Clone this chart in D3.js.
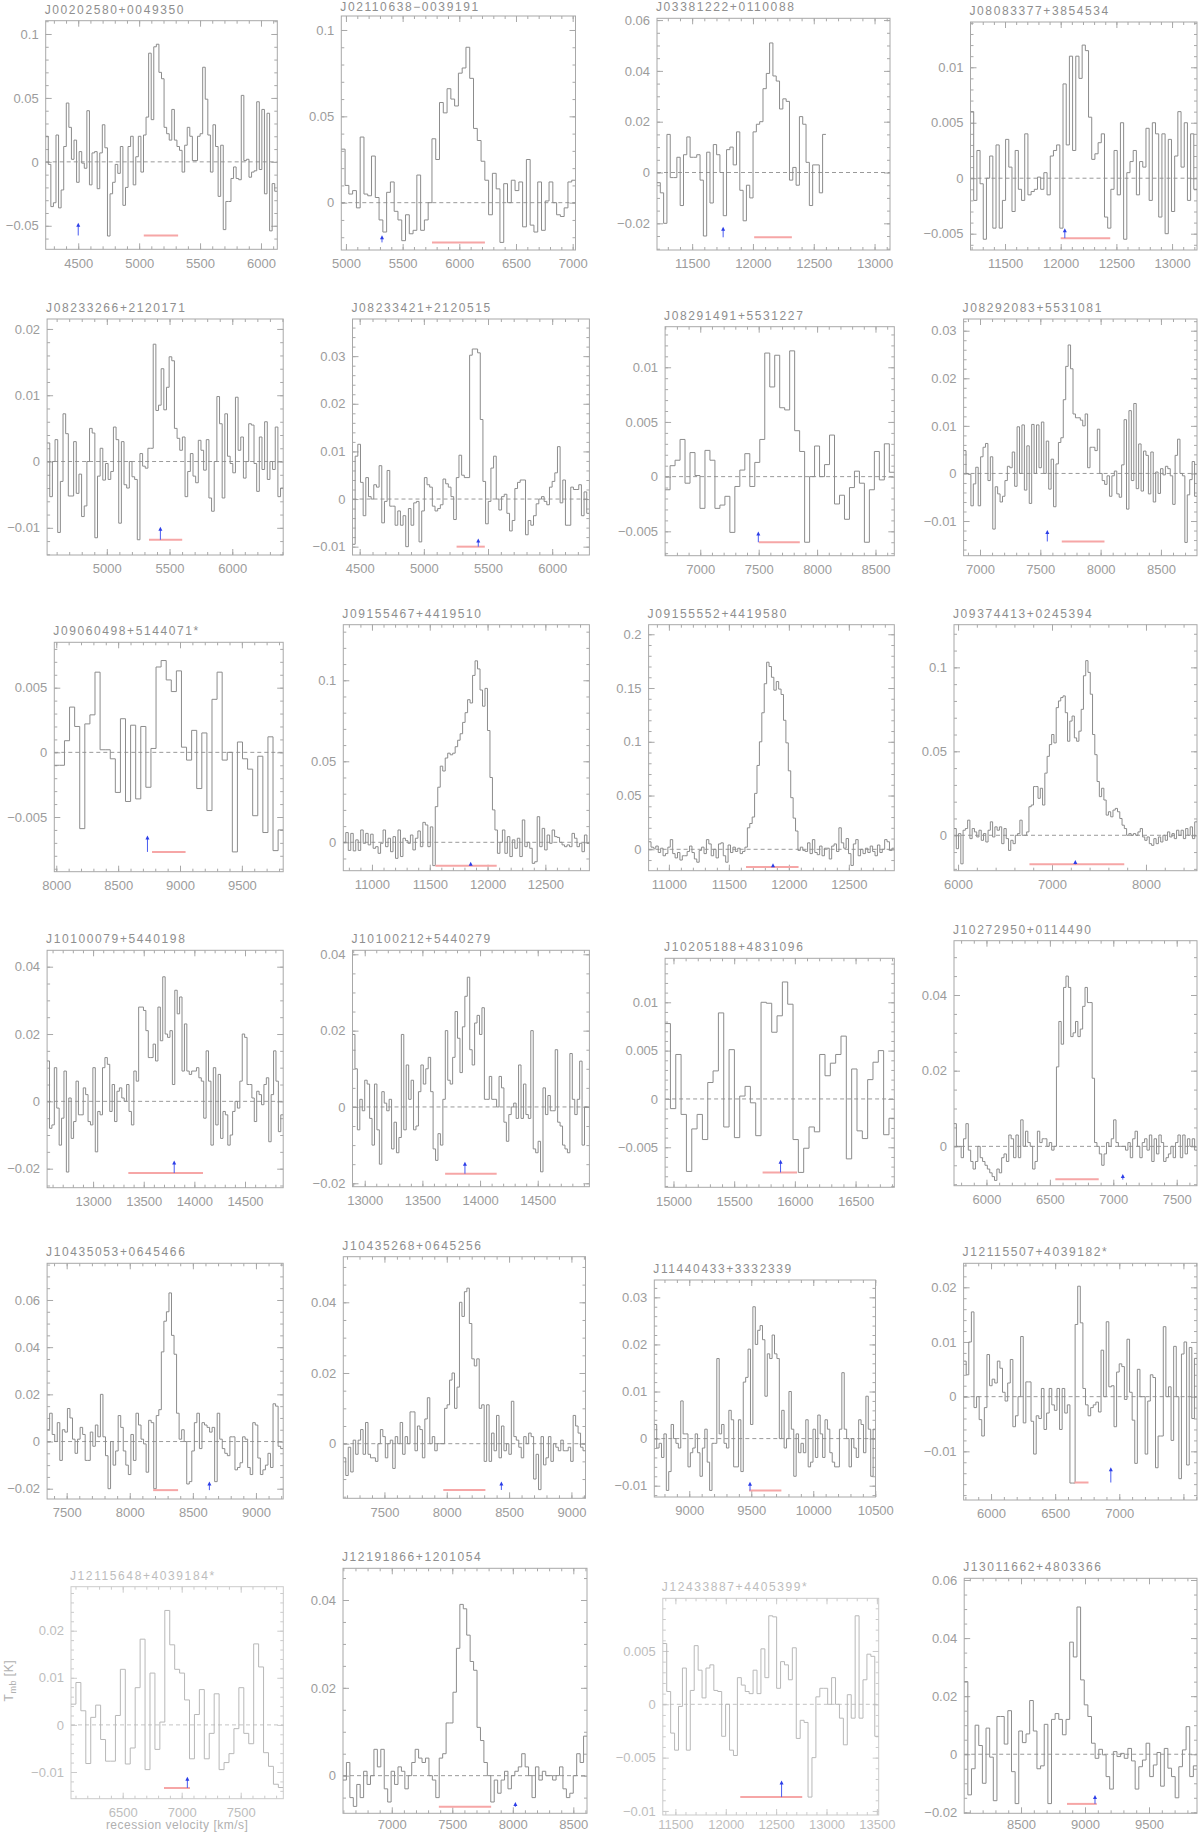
<!DOCTYPE html>
<html>
<head>
<meta charset="utf-8">
<script src="https://cdn.jsdelivr.net/npm/d3@7"></script>
<style>
body { margin: 0; background: #fff; }
svg { display: block; }
.tick text { font-family: "Liberation Sans", Arial, sans-serif; font-size: 13px; fill: #9c9c9c; }
.tick line { stroke: #a8a8a8; }
.title { font-family: "Liberation Sans", Arial, sans-serif; font-size: 12px; fill: #8e8e8e; letter-spacing: 1.6px; }
.frame { fill: none; stroke: #a8a8a8; }
.spec { fill: none; stroke: #8c8c8c; stroke-width: 1; }
.zero { stroke: #9a9a9a; stroke-dasharray: 4,3; }
.faded .tick text, .faded .title { fill: #bdbdbd; }
.faded .tick line, .faded .frame { stroke: #cbcbcb; }
.faded .spec { stroke: #b8b8b8; }
.faded .zero { stroke: #c4c4c4; }
.axis-label { font-family: "Liberation Sans", Arial, sans-serif; font-size: 12px; fill: #b0b0b0; letter-spacing: 0.5px; }
</style>
</head>
<body>
<svg id="chart" width="1200" height="1833"></svg>
<script>
const names = ["J00202580+0049350", "J02110638\u22120039191", "J03381222+0110088", "J08083377+3854534",
    "J08233266+2120171", "J08233421+2120515", "J08291491+5531227", "J08292083+5531081",
    "J09060498+5144071*", "J09155467+4419510", "J09155552+4419580", "J09374413+0245394",
    "J10100079+5440198", "J10100212+5440279", "J10205188+4831096", "J10272950+0114490",
    "J10435053+0645466", "J10435268+0645256", "J11440433+3332339", "J12115507+4039182*",
    "J12115648+4039184*", "J12191866+1201054", "J12433887+4405399*", "J13011662+4803366"];

// velocity range shown in each panel [km/s]
const xDomains = [[4233, 6134], [4959, 7025], [11211, 13127], [11190, 13224],
    [4524, 6406], [4444, 6290], [6699, 8661], [6864, 8799],
    [7984, 9834], [10752, 12881], [10831, 12879], [5957, 8543],
    [12546, 14877], [12894, 14948], [14931, 16819], [5744, 7660],
    [7345, 9216], [7170, 9113], [8718, 10502], [5786, 7606],
    [6062, 7861], [6597, 8613], [11375, 13518], [8056, 9875]];

// T_mb range shown in each panel [K]
const yDomains = [[-0.0684, 0.1104], [-0.0274, 0.1081], [-0.0305, 0.0607], [-0.00647, 0.01408],
    [-0.0141, 0.0215], [-0.01175, 0.0378], [-0.00723, 0.01371], [-0.01729, 0.03246],
    [-0.00923, 0.00851], [-0.01753, 0.1343], [-0.0199, 0.2089], [-0.0211, 0.1254],
    [-0.02565, 0.04487], [-0.0209, 0.04105], [-0.00914, 0.01455], [-0.0104, 0.05435],
    [-0.02436, 0.07555], [-0.01545, 0.0529], [-0.0124, 0.03368], [-0.0189, 0.02439],
    [-0.01567, 0.02934], [-0.00857, 0.04722], [-0.01038, 0.00994], [-0.02034, 0.06059]];

const xLabels = [[4500, 5000, 5500, 6000], [5000, 5500, 6000, 6500, 7000], [11500, 12000, 12500, 13000], [11500, 12000, 12500, 13000],
    [5000, 5500, 6000], [4500, 5000, 5500, 6000], [7000, 7500, 8000, 8500], [7000, 7500, 8000, 8500],
    [8000, 8500, 9000, 9500], [11000, 11500, 12000, 12500], [11000, 11500, 12000, 12500], [6000, 7000, 8000],
    [13000, 13500, 14000, 14500], [13000, 13500, 14000, 14500], [15000, 15500, 16000, 16500], [6000, 6500, 7000, 7500],
    [7500, 8000, 8500, 9000], [7500, 8000, 8500, 9000], [9000, 9500, 10000, 10500], [6000, 6500, 7000],
    [6500, 7000, 7500], [7000, 7500, 8000, 8500], [11500, 12000, 12500, 13000, 13500], [8500, 9000, 9500]];

const yLabels = [[-0.05, 0, 0.05, 0.1], [0, 0.05, 0.1], [-0.02, 0, 0.02, 0.04, 0.06], [-0.005, 0, 0.005, 0.01],
    [-0.01, 0, 0.01, 0.02], [-0.01, 0, 0.01, 0.02, 0.03], [-0.005, 0, 0.005, 0.01], [-0.01, 0, 0.01, 0.02, 0.03],
    [-0.005, 0, 0.005], [0, 0.05, 0.1], [0, 0.05, 0.1, 0.15, 0.2], [0, 0.05, 0.1],
    [-0.02, 0, 0.02, 0.04], [-0.02, 0, 0.02, 0.04], [-0.005, 0, 0.005, 0.01], [0, 0.02, 0.04],
    [-0.02, 0, 0.02, 0.04, 0.06], [0, 0.02, 0.04], [-0.01, 0, 0.01, 0.02, 0.03], [-0.01, 0, 0.01, 0.02],
    [-0.01, 0, 0.01, 0.02], [0, 0.02, 0.04], [-0.01, -0.005, 0, 0.005], [-0.02, 0, 0.02, 0.04, 0.06]];

const xMajorStep = [500, 500, 500, 500, 500, 500, 500, 500, 500, 500, 500, 1000,
    500, 500, 500, 500, 500, 500, 500, 500, 500, 500, 500, 500];
const xMinorStep = [100, 100, 100, 100, 100, 100, 100, 100, 100, 100, 100, 200,
    100, 100, 100, 100, 100, 100, 100, 100, 100, 100, 100, 100];
const yMinorStep = [0.01, 0.01, 0.005, 0.001, 0.002, 0.002, 0.001, 0.002,
    0.001, 0.01, 0.01, 0.01, 0.005, 0.005, 0.001, 0.005,
    0.005, 0.005, 0.002, 0.002, 0.002, 0.005, 0.001, 0.005];

// velocity span covered by the channels of each spectrum
const specRanges = [[4233, 6134], [4959, 7025], [11211, 12600], [11190, 13224],
    [4524, 6406], [4444, 6290], [6699, 8661], [6864, 8799],
    [7984, 9834], [10752, 12881], [10831, 12879], [5957, 8543],
    [12546, 14877], [12894, 14948], [14931, 16819], [5744, 7660],
    [7345, 9216], [7170, 9113], [8718, 10502], [5786, 7606],
    [6062, 7861], [6597, 8613], [11375, 13518], [8056, 9875]];

// channel values T_mb [K]
const spectra = [
  [0.02, -0.002, -0.035, -0.032, 0.021, -0.036, -0.022, 0.012, 0.046, 0.027, 0.002, 0.017, -0.016, 0.008, -0.001, -0.005, 0.04, -0.018, 0.007, 0.008, -0.021, 0.007, 0.029, 0.011, -0.058, -0.025, -0.016, -0.002, -0.009, 0.012, -0.034, -0.02, 0.012, 0.02, -0.018, 0.004, 0.02, -0.008, 0.021, 0.035, 0.085, 0.033, 0.09, 0.092, 0.07, 0.065, 0.027, 0.022, 0.017, 0.041, 0.017, 0.012, 0.009, -0.008, 0.013, 0.027, 0.02, 0.001, 0.001, 0.02, 0.022, 0.074, 0.049, 0.021, -0.008, 0.029, 0.012, -0.027, 0.013, -0.053, -0.031, -0.031, -0.013, -0.004, -0.013, -0.014, 0.052, 0.001, 0.002, -0.012, -0.008, -0.007, 0.047, -0.006, 0.041, -0.025, 0.038, -0.054, -0.017, -0.023],
  [0.031, 0.01, 0.005, 0.007, -0.003, 0.038, 0.005, 0.004, 0.027, 0.003, -0.01, -0.017, 0.006, 0.012, -0.005, -0.01, -0.022, -0.007, -0.018, -0.016, 0.016, -0.016, -0.01, 0.0, 0.037, 0.025, 0.058, 0.052, 0.066, 0.06, 0.056, 0.075, 0.078, 0.09, 0.072, 0.043, 0.036, 0.024, 0.013, -0.007, 0.017, 0.008, -0.023, 0.011, 0.0, 0.013, 0.007, 0.012, -0.014, 0.025, -0.013, -0.017, 0.012, -0.016, 0.001, 0.012, 0.0, -0.007, -0.008, -0.003, 0.012, 0.013],
  [-0.004, -0.008, -0.02, 0.015, -0.002, -0.002, 0.006, -0.013, 0.007, 0.014, 0.006, 0.006, 0.007, -0.003, -0.025, 0.008, -0.012, 0.011, 0.007, 0.0, -0.017, 0.009, 0.01, 0.003, 0.016, -0.007, -0.019, -0.005, -0.01, 0.016, 0.019, 0.02, 0.033, 0.039, 0.051, 0.038, 0.036, 0.025, 0.029, 0.028, -0.003, 0.002, -0.005, 0.022, 0.019, 0.004, -0.013, 0.003, 0.003, -0.008, 0.015],
  [0.006, -0.002, 0.0025, -0.0005, -0.0055, 0.0, 0.002, -0.0045, 0.003, -0.0045, -0.002, 0.0035, 0.001, -0.003, 0.0025, -0.001, -0.002, 0.004, -0.0015, -0.0012, -0.001, 0.0001, -0.001, 0.0005, -0.0015, 0.002, 0.0025, 0.003, -0.0045, 0.0085, 0.003, 0.011, 0.0025, 0.011, 0.009, 0.012, 0.0115, 0.0055, 0.0017, 0.0022, 0.0032, 0.004, -0.0035, -0.0045, -0.001, 0.0025, -0.0015, 0.005, -0.0055, 0.0005, 0.0015, 0.0025, -0.0015, 0.0015, 0.001, 0.0045, -0.002, 0.005, 0.004, -0.0035, 0.004, -0.005, 0.0035, -0.003, 0.002, 0.006, 0.001, 0.005, -0.002, 0.004, -0.001],
  [0.0028, -0.0053, 0.0, 0.0033, -0.0107, -0.003, 0.0072, 0.0042, -0.0052, -0.0052, 0.003, -0.0048, -0.0019, -0.0083, -0.0067, 0.0, 0.005, 0.0043, -0.0115, -0.0022, 0.002, -0.0028, -0.0003, -0.0027, -0.0015, 0.0052, 0.0033, -0.0093, 0.003, -0.0035, -0.004, 0.0, -0.0023, -0.0027, -0.0118, 0.0012, -0.0007, -0.001, 0.002, 0.002, 0.0177, 0.0077, 0.0085, 0.014, 0.0078, 0.0112, 0.0158, 0.0152, 0.005, 0.0035, 0.0017, 0.0037, -0.0053, -0.0015, 0.0012, -0.0022, -0.0032, 0.0032, 0.0017, -0.0013, 0.0033, -0.0055, -0.0075, 0.0, 0.0098, 0.0057, -0.0055, 0.0072, 0.0008, -0.0003, -0.0017, 0.0097, 0.0017, 0.0037, -0.0025, 0.0, 0.0057, 0.0055, -0.0003, -0.0045, 0.0037, -0.0012, 0.006, -0.0027, 0.0, -0.0012, 0.0052, -0.0053, -0.004],
  [-0.0095, 0.009, 0.0115, 0.0035, -0.0035, 0.0045, 0.0005, 0.0, 0.003, 0.0025, 0.007, -0.005, -0.0005, 0.006, -0.0015, -0.0015, -0.0055, -0.0025, -0.0055, -0.0035, -0.01, -0.002, -0.0055, -0.0008, -0.0005, -0.009, -0.0025, 0.0045, 0.003, 0.0025, -0.0015, -0.0025, -0.002, -0.0012, 0.0042, 0.0032, 0.0025, 0.0005, -0.0043, 0.0045, 0.0092, 0.005, 0.0045, 0.0045, 0.0302, 0.0315, 0.0315, 0.0307, 0.0167, 0.0037, -0.0052, -0.0005, 0.0065, 0.009, 0.0, -0.0023, 0.0005, 0.001, -0.003, -0.0067, -0.0045, 0.0022, 0.0035, 0.004, 0.004, -0.0075, -0.0045, -0.0055, -0.0035, -0.001, 0.0, 0.0005, -0.0005, -0.0012, 0.0025, 0.0037, 0.0055, 0.011, -0.0008, 0.004, -0.0055, -0.0055, 0.0025, 0.002, 0.002, 0.003, -0.0035, 0.0015, -0.003],
  [-0.0012, 0.001, 0.0015, 0.0034, -0.0006, 0.0022, 0.0001, -0.0029, 0.0024, 0.0015, -0.0029, -0.0026, -0.0018, -0.0051, -0.0009, 0.0006, 0.0021, -0.0009, 0.0013, 0.0034, 0.0113, 0.0082, 0.0111, 0.0063, 0.0061, 0.0115, 0.0042, 0.0023, -0.006, 0.0, 0.0028, 0.0, 0.0011, 0.0038, -0.0025, -0.0017, -0.0039, -0.001, 0.0005, -0.0006, -0.006, -0.0012, 0.0023, -0.0003, 0.003, 0.0004],
  [0.0048, 0.0, -0.0002, -0.0068, -0.0022, 0.0013, -0.0068, 0.0035, 0.0055, 0.0063, -0.0015, 0.0035, -0.0117, -0.0028, -0.0043, -0.006, -0.0048, -0.0015, 0.0015, 0.0012, 0.0045, -0.0027, 0.0098, 0.0, 0.0102, -0.0035, 0.0058, -0.0063, 0.0103, 0.0, 0.0102, 0.0012, 0.0108, 0.0, 0.0068, -0.0033, 0.003, -0.007, 0.002, 0.0065, 0.0075, 0.0155, 0.0225, 0.027, 0.022, 0.0125, 0.0117, 0.0117, 0.0112, 0.01, 0.0125, 0.0012, 0.0055, 0.0055, 0.0048, 0.0093, 0.0, -0.0015, -0.0023, -0.0005, -0.0048, -0.0005, 0.0005, -0.0043, -0.005, 0.0018, 0.0113, -0.0075, 0.0132, -0.0015, 0.0147, -0.0032, 0.0062, -0.0037, 0.0047, 0.0038, -0.0043, 0.0045, -0.006, 0.0003, -0.0042, 0.001, -0.0003, 0.0015, 0.001, -0.0005, -0.0065, 0.0038, 0.0072, 0.0, -0.0005, -0.0145, -0.0045, -0.0013, 0.0025, -0.0048],
  [-0.001, -0.001, 0.0009, 0.0035, 0.002, -0.0059, 0.0022, 0.0029, 0.0062, 0.0002, 0.0002, -0.0005, -0.0031, 0.0026, -0.0038, 0.0021, -0.0036, 0.002, -0.0027, 0.0003, 0.0066, 0.0071, 0.0056, 0.0047, 0.0063, 0.0004, -0.0006, 0.0017, -0.0028, 0.0015, -0.0045, 0.0041, 0.0062, -0.0006, 0.0, -0.0077, 0.0008, -0.0005, -0.0013, -0.0049, -0.0003, -0.0062, 0.0012, -0.0076, -0.006],
  [0.0, 0.006, -0.005, 0.0055, -0.0053, 0.0015, -0.005, 0.0076, -0.0006, 0.0055, -0.0016, 0.005, -0.0037, -0.0027, -0.0068, -0.0006, 0.0076, -0.0027, 0.0025, -0.0058, 0.0035, -0.0099, 0.0076, -0.0088, 0.0025, 0.001, -0.0006, 0.0045, -0.0047, 0.0025, 0.007, -0.0027, 0.0123, 0.0107, -0.0027, 0.0095, -0.0144,
   0.022, 0.034, 0.047, 0.044, 0.052, 0.055, 0.054, 0.055, 0.059, 0.063, 0.067, 0.074, 0.08, 0.088, 0.086, 0.103, 0.112, 0.107, 0.094, 0.084, 0.095, 0.069, 0.04, 0.02, 0.0076, -0.0068,
   0.0, 0.0076, -0.0068, 0.0035, -0.0088, 0.0015, -0.0037, 0.0025, -0.0088, 0.0138, -0.0027, 0.0, -0.0037, -0.013, -0.012, 0.0158, -0.0027, 0.0086, -0.0047, 0.0045, -0.0006, 0.0076, 0.0035, 0.003, 0.0, -0.0016, -0.0027, -0.0016, -0.0027, 0.0055, 0.0025, -0.0027, -0.0006, -0.0058, 0.0045, -0.0006],
  [0.007, 0.002, 0.001, 0.003, -0.003, 0.001, -0.006, -0.004, 0.002, 0.009, -0.004, -0.008, -0.003, -0.01, -0.006, -0.006, -0.002, 0.003, -0.003, -0.009, -0.012, -0.001, 0.002, -0.004, 0.009, 0.005, -0.006, 0.0, -0.008, 0.005, 0.006, -0.006, -0.012, 0.004, -0.003, 0.002, -0.002, 0.001, -0.004, -0.002, 0.002,
   0.02, 0.024, 0.03, 0.052, 0.078, 0.1, 0.127, 0.154, 0.174, 0.17, 0.16, 0.148, 0.156, 0.149, 0.144, 0.12, 0.099, 0.073, 0.048, 0.029, 0.017, -0.001,
   0.002, -0.001, -0.002, 0.006, -0.004, 0.009, -0.003, -0.005, 0.003, -0.006, 0.001, 0.001, -0.009, 0.003, 0.005, -0.002, 0.02, 0.006, 0.001, 0.01, -0.004, -0.015, 0.005, 0.009, -0.006, 0.0, -0.004, 0.001, -0.003, 0.003, -0.002, -0.006, 0.004, -0.003, 0.0, 0.009, 0.007, -0.001, 0.001],
  [0.004, -0.008, 0.001, -0.017, 0.003, 0.004, 0.009, -0.002, 0.004, 0.002, -0.001, 0.003, -0.003, 0.001, -0.004, 0.003, 0.008, -0.001, 0.005, 0.003, 0.005, -0.005, 0.004, -0.002, -0.009, -0.003, -0.005, 0.0, 0.001, 0.009, 0.0, 0.0, 0.002, 0.017, 0.018, 0.029, 0.029, 0.022, 0.028, 0.018, 0.037, 0.047, 0.054, 0.06, 0.055, 0.076, 0.08, 0.082, 0.083, 0.073, 0.056, 0.068, 0.071, 0.058, 0.056, 0.062, 0.075, 0.095, 0.104, 0.097, 0.084, 0.06, 0.048, 0.032, 0.023, 0.028, 0.021, 0.012, 0.014, 0.011, 0.015, 0.016, 0.014, 0.01, 0.006, 0.004, 0.0, 0.001, 0.0, 0.001, 0.0, 0.002, 0.004, -0.001, -0.003, -0.001, -0.005, -0.006, -0.002, -0.005, -0.001, -0.004, 0.0, -0.003, 0.002, -0.001, 0.001, -0.002, 0.003, 0.0, 0.003, -0.002, 0.004, 0.0, 0.005, -0.002, 0.008],
  [0.012, -0.008, -0.007, 0.01, -0.002, -0.013, -0.005, 0.009, -0.021, 0.001, -0.011, -0.006, 0.006, -0.004, -0.004, 0.004, 0.002, -0.006, -0.007, 0.01, -0.015, -0.003, -0.004, 0.01, 0.013, 0.011, -0.003, 0.005, -0.006, 0.003, 0.004, 0.001, 0.0, 0.005, -0.003, -0.007, 0.009, 0.006, 0.028, 0.028, 0.027, 0.021, 0.013, 0.013, 0.017, 0.012, 0.028, 0.018, 0.037, 0.02, 0.019, 0.021, 0.005, 0.033, 0.026, 0.031, 0.009, 0.023, 0.009, 0.008, 0.009, 0.009, 0.01, 0.007, 0.006, -0.005, 0.015, 0.006, -0.013, 0.01, -0.007, 0.008, -0.011, -0.003, -0.004, -0.013, -0.01, -0.003, 0.0, -0.002, 0.006, 0.02, 0.019, 0.005, 0.005, 0.001, -0.006, 0.003, 0.002, -0.001, 0.005, 0.007, -0.012, 0.002, 0.015, 0.006, -0.009, -0.004],
  [0.019, 0.01, -0.006, 0.002, -0.001, 0.007, 0.006, -0.003, -0.01, 0.006, -0.006, -0.015, 0.004, 0.001, -0.001, 0.002, -0.011, -0.004, -0.012, -0.008, 0.019, -0.006, 0.011, 0.002, 0.007, -0.006, -0.005, 0.004, 0.011, 0.006, 0.01, 0.013, 0.004, -0.011, -0.014, -0.007, -0.01, 0.002, 0.02, 0.007, 0.006, 0.013, 0.025, 0.018, 0.009, 0.021, 0.029, 0.034, 0.015, 0.011, 0.022, 0.024, 0.019, 0.026, 0.002, 0.002, 0.008, 0.002, 0.002, 0.0, 0.008, 0.005, -0.004, -0.009, -0.002, 0.0, 0.001, -0.003, 0.011, -0.003, 0.006, -0.002, -0.003, 0.02, -0.011, -0.012, -0.009, -0.017, 0.005, -0.002, 0.003, -0.001, -0.001, 0.015, -0.004, -0.005, -0.01, -0.011, -0.012, 0.014, 0.002, -0.002, 0.002, 0.012, -0.01, 0.0, 0.0],
  [0.0078, -0.001, 0.0046, -0.0016, -0.0075, -0.0031, -0.0016, -0.0042, 0.0017, 0.0029, 0.0089, -0.0029, 0.0051, -0.004, 0.0003, 0.0013, -0.0004, -0.0038, 0.01, 0.0099, 0.0069, 0.0086, 0.0121, 0.0098, -0.0042, -0.0076, -0.0051, -0.0029, -0.0034, 0.0046, 0.0024, 0.0037, 0.0046, 0.0065, -0.0062, 0.0031, -0.0033, -0.0041, 0.002, 0.0038, 0.005, -0.0037, -0.002],
  [0.006, 0.0, 0.0, -0.003, 0.002, 0.006, -0.001, -0.004, -0.006, -0.004, 0.0, -0.003, -0.004, -0.005, -0.006, -0.007, -0.008, -0.009, -0.006, -0.007, -0.003, -0.002, -0.004, 0.003, 0.002, -0.003, 0.003, -0.003, 0.007, 0.0, 0.004, 0.001, 0.0, -0.006, -0.004, 0.004, 0.001, 0.002, 0.002, 0.0, 0.001, -0.001, 0.0, 0.021, 0.033, 0.027, 0.042, 0.045, 0.042, 0.029, 0.03, 0.033, 0.029, 0.031, 0.037, 0.042, 0.038, 0.038, 0.018, 0.001, 0.0, -0.002, -0.005, -0.002, 0.001, 0.0, 0.002, 0.007, 0.001, 0.0, 0.0, 0.0, -0.001, 0.001, -0.003, 0.002, 0.004, 0.0, -0.003, 0.001, 0.002, -0.001, 0.003, -0.004, 0.002, -0.002, 0.003, 0.001, -0.004, -0.003, -0.002, 0.0, -0.003, 0.001, 0.003, -0.003, 0.003, -0.002, 0.002, 0.0, 0.002, -0.001],
  [0.005, 0.012, 0.003, 0.0, 0.008, -0.008, 0.005, 0.004, 0.014, 0.01, 0.001, -0.005, 0.001, 0.006, 0.003, -0.008, -0.008, 0.004, -0.002, 0.007, 0.002, 0.02, 0.002, -0.006, -0.02, 0.0, -0.01, -0.004, 0.011, 0.006, -0.004, -0.01, -0.014, 0.003, -0.008, 0.012, 0.007, 0.001, -0.001, -0.013, 0.009, 0.008, -0.02, 0.011, 0.0135, 0.038, 0.051, 0.055, 0.063, 0.045, 0.037, 0.012, 0.001, 0.005, 0.0, -0.018, -0.017, -0.004, 0.008, 0.012, -0.003, 0.008, 0.007, 0.006, 0.004, 0.006, -0.017, 0.012, 0.001, -0.003, -0.005, -0.006, 0.002, 0.002, -0.012, -0.011, -0.009, 0.002, 0.001, -0.011, -0.014, 0.008, 0.007, -0.007, -0.014, -0.012, -0.01, -0.005, -0.011, 0.016, 0.015, -0.002, -0.003],
  [-0.004, -0.009, -0.001, -0.008, 0.001, -0.003, 0.001, 0.004, -0.003, 0.006, -0.003, -0.004, -0.004, -0.005, 0.0, 0.004, 0.002, -0.004, 0.0, 0.001, -0.007, 0.002, 0.0, 0.006, -0.003, 0.002, 0.0, 0.009, 0.009, -0.002, 0.005, 0.004, -0.004, 0.007, 0.013, 0.0, 0.002, -0.002, 0.0, 0.0, 0.0, 0.01, 0.011, 0.018, 0.02, 0.01, 0.016, 0.04, 0.036, 0.043, 0.044, 0.034, 0.024, 0.022, 0.024, 0.01, 0.011, -0.005, 0.011, -0.005, 0.003, -0.002, 0.008, -0.004, 0.005, -0.002, 0.0, -0.003, 0.012, 0.002, 0.001, -0.001, -0.004, 0.002, 0.0, 0.003, 0.002, -0.01, -0.003, -0.013, 0.002, -0.006, -0.004, 0.002, -0.005, 0.0, -0.001, -0.002, 0.001, -0.002, -0.002, -0.001, -0.005, 0.008, 0.005, 0.003, -0.001, -0.002],
  [0.003, -0.002, -0.001, -0.004, 0.001, -0.011, -0.007, 0.003, 0.0, -0.001, -0.002, 0.008, 0.001, 0.001, -0.006, -0.003, -0.002, 0.001, -0.003, -0.008, -0.002, 0.002, -0.005, -0.011, -0.001, -0.001, 0.017, 0.001, 0.003, -0.001, -0.002, 0.006, 0.004, -0.006, -0.006, 0.004, -0.007, 0.012, 0.013, 0.019, 0.003, 0.028, 0.02, 0.023, 0.024, 0.021, 0.009, 0.018, 0.017, 0.022, 0.018, 0.017, 0.0, 0.006, -0.002, 0.0, 0.01, 0.002, -0.008, 0.001, -0.003, -0.001, -0.003, 0.004, -0.006, -0.005, 0.002, -0.004, 0.005, 0.001, -0.004, 0.004, 0.002, -0.003, -0.005, -0.006, -0.006, 0.002, 0.014, 0.002, 0.0, -0.006, 0.0, -0.002, -0.004, 0.004, 0.003, -0.003, 0.009, 0.002, -0.008, 0.002],
  [0.0065, 0.004, 0.01, 0.0155, -0.002, 0.0, -0.0042, -0.0072, -0.002, 0.0077, 0.002, 0.0032, 0.0025, 0.0065, 0.0052, 0.0008, -0.0008, 0.0025, 0.0068, -0.0055, -0.0035, 0.0, 0.011, -0.0048, 0.0027, 0.0027, -0.0045, -0.0105, -0.0035, -0.004, 0.0015, -0.006, -0.003, 0.0015, -0.0015, -0.0025, 0.0015, -0.006, 0.0015, -0.003, -0.0015, -0.0158, -0.0158, 0.0132, 0.0202, 0.0135, 0.0015, -0.0015, -0.0035, -0.002, -0.0015, -0.001, -0.0028, 0.0085, 0.0, 0.0137, 0.0018, 0.002, -0.0055, 0.0045, 0.006, 0.0055, -0.0005, 0.0105, 0.0008, -0.0043, -0.0122, 0.005, 0.0, 0.0, -0.0105, -0.0008, 0.004, 0.0035, -0.013, -0.0072, -0.0072, 0.0128, 0.0, 0.0018, -0.008, 0.0092, 0.0, -0.015, 0.0078, 0.01, -0.0125, 0.009, -0.004, 0.007],
  [0.0044, 0.009, 0.003, -0.0082, 0.0016, 0.0042, -0.0031, -0.0077, -0.0077, 0.002, 0.0118, -0.0083, -0.0049, 0.0079, 0.0182, -0.0095, 0.011, -0.0052, 0.0006, 0.0243, 0.017, 0.0118, 0.011, 0.0053, -0.0072, 0.0022, 0.0075, -0.0072, -0.0018, 0.0066, -0.0095, -0.008, -0.0061, -0.0008, 0.0079, -0.0018, -0.004, 0.0172, 0.0123, -0.0059, -0.0088, -0.0126, -0.0133],
  [-0.001, 0.003, -0.005, -0.007, -0.002, -0.005, 0.001, -0.002, 0.0, 0.006, 0.002, 0.006, -0.003, -0.006, 0.001, -0.002, 0.002, 0.001, -0.003, 0.0, 0.003, 0.006, 0.004, 0.003, 0.004, 0.0, -0.001, -0.005, 0.004, 0.005, 0.012, 0.012, 0.019, 0.029, 0.039, 0.038, 0.032, 0.026, 0.024, 0.011, 0.008, 0.003, 0.0, -0.006, -0.001, -0.004, -0.001, 0.001, -0.003, 0.0, 0.001, 0.002, 0.005, 0.002, 0.0, -0.005, 0.002, -0.001, 0.001, 0.0, 0.0, -0.001, 0.0, 0.002, -0.003, -0.005, -0.004, 0.0, 0.005, 0.003, 0.009],
  [0.0057, 0.0012, -0.0027, -0.0043, -0.0002, 0.0034, -0.0043, 0.0013, 0.0055, 0.0032, 0.0006, 0.0034, 0.0037, 0.0013, 0.0012, -0.003, 0.0, -0.0043, -0.0048, 0.0025, 0.0018, 0.0012, 0.001, 0.0032, 0.001, 0.0052, 0.0025, 0.0083, 0.0082, 0.0015, 0.004, 0.0037, 0.0023, 0.0053, -0.0032, -0.0015, -0.0017, -0.0087, -0.005, 0.0007, 0.0015, 0.0015, 0.0, 0.0025, 0.0, -0.0013, -0.0038, 0.0009, -0.0013, 0.0083, -0.0013, 0.0023, 0.0047, 0.0045, -0.003],
  [0.025, -0.014, -0.005, 0.01, 0.003, -0.01, 0.009, -0.001, -0.016, 0.013, 0.013, 0.0035, 0.015, -0.006, -0.017, 0.008, 0.004, 0.007, 0.0185, 0.008, -0.005, -0.004, 0.0103, -0.017, 0.012, 0.014, 0.012, 0.0067, 0.012, 0.0386, 0.0335, 0.0507, 0.0256, 0.017, 0.013, 0.0038, -0.0014, 0.0017, -0.0002, -0.0077, -0.012, 0.0009, -0.0008, 0.0003, -0.0014, 0.002, -0.0023, -0.012, -0.0043, -0.002, 0.0038, -0.0077, -0.0037, 0.0006, -0.011, 0.002, -0.0048, -0.0077, -0.015, -0.0043, 0.0015, 0.0095, -0.0077, -0.004]
];

// velocity interval of the line (red bar): [v1, v2, T level]
const lineRanges = [[5038, 5320, -0.0576], [5759, 6226, -0.023], [12010, 12320, -0.0255], [12000, 12445, -0.0054],
    [5336, 5601, -0.0118], [5255, 5475, -0.01], [7501, 7852, -0.006], [7678, 8032, -0.0143],
    [8774, 9045, -0.0077], [11549, 12079, -0.0144], [11643, 12081, -0.0165], [6760, 7769, -0.0173],
    [13348, 14085, -0.0213], [13697, 14144, -0.0175], [15734, 16018, -0.0076], [6543, 6885, -0.0087],
    [8185, 8383, -0.0206], [7972, 8310, -0.0131], [9482, 9743, -0.011], [6650, 6760, -0.0157],
    [6850, 7070, -0.0134], [7389, 7821, -0.0071], [12144, 12759, -0.0087], [8859, 9092, -0.0171]];

// optical velocity (blue arrow): [v, T from, T to]
const arrows = [[4500, -0.0576, -0.0484], [5318, -0.023, -0.0194], [11755, -0.0255, -0.0217], [12037, -0.0054, -0.0046],
    [5427, -0.0118, -0.01], [5424, -0.01, -0.0085], [7497, -0.006, -0.0051], [7558, -0.0143, -0.0121],
    [8737, -0.0077, -0.0065], [11854, -0.0144, -0.0126], [11868, -0.0165, -0.014], [7248, -0.0173, -0.0153],
    [13801, -0.0213, -0.0179], [13869, -0.0175, -0.0146], [15882, -0.0076, -0.0064], [7075, -0.0088, -0.0076],
    [8631, -0.0206, -0.0174], [8438, -0.0131, -0.011], [9490, -0.011, -0.0094], [6934, -0.0157, -0.0131],
    [7048, -0.0134, -0.0112], [8021, -0.0071, -0.0062], [12554, -0.0087, -0.00725], [9078, -0.0171, -0.0144]];

const fadedPanels = [20, 22];

// plot frames on the page [left, top, right, bottom]
const boxes = [[45.7, 20.7, 277.3, 249.3], [341.3, 16, 575.5, 250], [657, 18.3, 890, 250], [970.5, 22, 1197, 250],
    [47.1, 319, 283.2, 555], [352.5, 319, 589.4, 555], [665.1, 326.7, 894.3, 555.7], [963.6, 319, 1197, 555.7],
    [54.3, 642.3, 283.2, 871.7], [343.3, 624.7, 589.4, 870.7], [648.6, 624.7, 894.3, 870.7], [954, 624.7, 1197, 870.7],
    [47.1, 950.3, 283.2, 1187.7], [352.5, 950.3, 589.4, 1186.7], [665.1, 958.3, 894.3, 1187.3], [954, 940.7, 1197, 1185.7],
    [47.1, 1263.3, 283.2, 1499], [343.3, 1256.7, 585.5, 1498.3], [654.3, 1280, 875.5, 1497], [963.6, 1263.3, 1197, 1500],
    [71, 1586.7, 283.3, 1798.7], [343, 1568.3, 587, 1813.3], [662.8, 1598.3, 878.7, 1815], [964.2, 1578.3, 1197, 1813.3]];

const pageHeight = 1833;

let svg = d3.select("#chart");

function stepTicks(domain, step) {
    let lo = Math.ceil(domain[0] / step - 1e-9),
        hi = Math.floor(domain[1] / step + 1e-9);
    return d3.range(lo, hi + 1).map(k => +(k * step).toFixed(6));
}

function fmtY(d) {
    if(d === 0) return "0";
    return (d < 0 ? "\u2212" : "") + Math.abs(d);
}

function noDomain(g) {
    g.select(".domain").remove();
}

function drawPanel(i) {
    let [x0, y0, x1, y1] = boxes[i];
    let x = d3.scaleLinear().domain(xDomains[i]).range([x0, x1]);
    let y = d3.scaleLinear().domain(yDomains[i]).range([y1, y0]);

    let g = svg.append("g")
        .attr("class", fadedPanels.includes(i) ? "panel faded" : "panel");

    g.append("clipPath")
        .attr("id", "clip" + i)
        .append("rect")
        .attr("x", x0).attr("y", y0)
        .attr("width", x1 - x0).attr("height", y1 - y0);

    let xMinor = stepTicks(xDomains[i], xMinorStep[i]),
        xMajor = stepTicks(xDomains[i], xMajorStep[i]),
        yMinor = stepTicks(yDomains[i], yMinorStep[i]),
        yMajor = yLabels[i];

    // keep the bottom row of labels on the page
    let pad = Math.min(9, pageHeight - 13 - y1);

    // minor ticks on all sides
    g.append("g").attr("transform", `translate(0,${y1})`)
        .call(d3.axisBottom(x).tickValues(xMinor).tickSize(-3).tickFormat("")).call(noDomain);
    g.append("g").attr("transform", `translate(0,${y0})`)
        .call(d3.axisTop(x).tickValues(xMinor).tickSize(-3).tickFormat("")).call(noDomain);
    g.append("g").attr("transform", `translate(${x0},0)`)
        .call(d3.axisLeft(y).tickValues(yMinor).tickSize(-3).tickFormat("")).call(noDomain);
    g.append("g").attr("transform", `translate(${x1},0)`)
        .call(d3.axisRight(y).tickValues(yMinor).tickSize(-3).tickFormat("")).call(noDomain);

    // major ticks with labels
    g.append("g").attr("transform", `translate(0,${y1})`)
        .call(d3.axisBottom(x).tickValues(xMajor).tickSize(-6).tickPadding(pad)
            .tickFormat(d => xLabels[i].includes(d) ? String(d) : ""))
        .call(noDomain);
    g.append("g").attr("transform", `translate(0,${y0})`)
        .call(d3.axisTop(x).tickValues(xMajor).tickSize(-6).tickFormat("")).call(noDomain);
    g.append("g").attr("transform", `translate(${x0},0)`)
        .call(d3.axisLeft(y).tickValues(yMajor).tickSize(-6).tickPadding(7).tickFormat(fmtY))
        .call(noDomain);
    g.append("g").attr("transform", `translate(${x1},0)`)
        .call(d3.axisRight(y).tickValues(yMajor).tickSize(-6).tickFormat("")).call(noDomain);

    g.append("rect")
        .attr("class", "frame")
        .attr("x", x0).attr("y", y0)
        .attr("width", x1 - x0).attr("height", y1 - y0);

    g.append("line")
        .attr("class", "zero")
        .attr("x1", x0).attr("x2", x1)
        .attr("y1", y(0)).attr("y2", y(0));

    // spectrum as a histogram
    let vals = spectra[i],
        n = vals.length,
        [s0, s1] = specRanges[i],
        dv = (s1 - s0) / n;
    let pts = vals.map((v, k) => [s0 + k * dv, v]);
    pts.push([s1, vals[n - 1]]);

    let line = d3.line()
        .x(d => x(d[0]))
        .y(d => y(d[1]))
        .curve(d3.curveStepAfter);

    g.append("path")
        .attr("class", "spec")
        .attr("clip-path", `url(#clip${i})`)
        .attr("d", line(pts));

    // line width bar
    let [v1, v2, lv] = lineRanges[i];
    g.append("line")
        .attr("x1", x(v1)).attr("x2", x(v2))
        .attr("y1", y(lv)).attr("y2", y(lv))
        .attr("stroke", "#f6a6a6")
        .attr("stroke-width", 2);

    // optical velocity arrow
    let [av, af, at] = arrows[i];
    let ax = x(av), ayBase = y(af), ayTip = y(at);
    g.append("line")
        .attr("x1", ax).attr("x2", ax)
        .attr("y1", ayBase).attr("y2", Math.min(ayBase, ayTip + 2))
        .attr("stroke", "#4a5cf0")
        .attr("stroke-width", 1);
    g.append("path")
        .attr("d", `M${ax},${ayTip - 1}L${ax - 2},${ayTip + 3}L${ax + 2},${ayTip + 3}Z`)
        .attr("fill", "#2b3de8");

    g.append("text")
        .attr("class", "title")
        .attr("x", x0 - 1)
        .attr("y", Math.max(y0 - 7, 11))
        .text(names[i]);
}

d3.range(names.length).forEach(drawPanel);

// axis titles, placed under / beside the bottom-left panel
let [bx0, by0, bx1, by1] = boxes[20];

svg.append("text")
    .attr("class", "axis-label")
    .attr("x", (bx0 + bx1) / 2)
    .attr("y", 1829)
    .attr("text-anchor", "middle")
    .text("recession velocity [km/s]");

let ylab = svg.append("text")
    .attr("class", "axis-label")
    .attr("text-anchor", "middle")
    .attr("transform", `translate(13,${(by0 + by1) / 2 - 12}) rotate(-90)`);
ylab.append("tspan").text("T");
ylab.append("tspan").attr("font-size", "9px").attr("dy", 3).text("mb");
ylab.append("tspan").attr("dy", -3).text(" [K]");
</script>
</body>
</html>
